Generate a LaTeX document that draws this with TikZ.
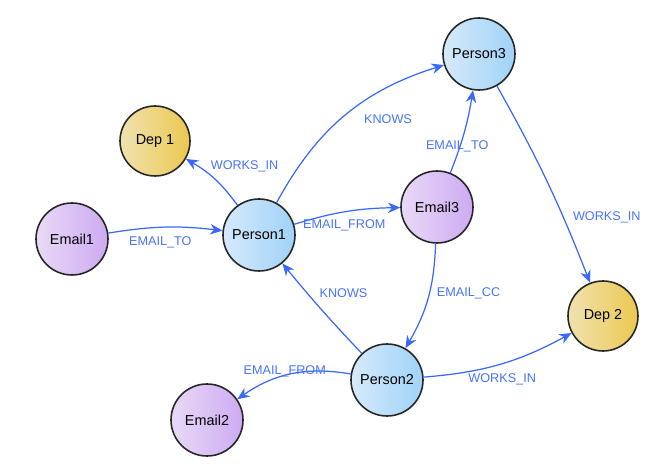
\documentclass[tikz,border=0pt]{standalone}
\usepackage{fontspec}
\setmainfont{Liberation Sans}
\usetikzlibrary{arrows.meta}
\usepackage{xcolor}
\definecolor{edgeblue}{RGB}{56,104,255}
\definecolor{labblue}{RGB}{70,115,255}
\definecolor{pplight}{RGB}{214,234,250}
\definecolor{ppdark}{RGB}{160,210,248}
\definecolor{eelight}{RGB}{232,218,246}
\definecolor{eedark}{RGB}{206,170,243}
\definecolor{ddlight}{RGB}{240,226,176}
\definecolor{dddark}{RGB}{236,200,80}
\tikzset{
    PP/.style ={circle,minimum size=72\unitpx, draw=black!85, line width=0.9pt, left color=pplight, right color=ppdark, font=\fontsize{8.2}{9}\selectfont},
    EE/.style ={circle,minimum size=72\unitpx, draw=black!85, line width=0.9pt, left color=eelight, right color=eedark, font=\fontsize{8.2}{9}\selectfont},
    DD/.style ={circle,minimum size=70\unitpx, draw=black!85, line width=0.9pt, left color=ddlight, right color=dddark, font=\fontsize{8.2}{9}\selectfont},
    RL/.style ={draw=edgeblue, line width=0.7pt, -{Stealth[length=7pt,width=6pt]}},
    LB/.style ={text=labblue, font=\fontsize{7.2}{8}\selectfont, inner sep=1pt}
}
\newlength{\unitpx}
\setlength{\unitpx}{0.02cm}

\begin{document}
\begin{tikzpicture}[x=0.02cm,y=-0.02cm]
        \useasboundingbox (0,0) rectangle (667,469);
        \node[DD] (dep1) at (155,141) {Dep 1};
        \node[EE] (email1) at (72,239) {Email1};
        \node[PP] (person1) at (259,235) {Person1};
        \node[PP] (person3) at (479,54) {Person3};
        \node[EE] (email3) at (437,207) {Email3};
        \node[DD] (dep2) at (603,316) {Dep 2};
        \node[PP] (person2) at (387,380) {Person2};
        \node[EE] (email2) at (207,420) {Email2};
        \draw[RL] (person1) to[bend right=12] node[LB,pos=0.45,anchor=south west,xshift=-4.8pt,yshift=4pt] {WORKS\_IN} (dep1);
        \draw[RL] (email1) to[bend left=8] node[LB,below=2pt,xshift=-2.8pt,yshift=-2.3pt] {EMAIL\_TO} (person1);
        \draw[RL] (person1) to[bend left=22] node[LB,pos=0.6,below right=1pt,xshift=-1pt,yshift=-4.5pt] {KNOWS} (person3);
        \draw[RL] (person1) to[bend left=8] node[LB,pos=0.45,below=3pt,xshift=1.5pt] {EMAIL\_FROM} (email3);
        \draw[RL] (email3) to[bend right=6] node[LB,pos=0.45,xshift=-3.4pt,yshift=-5.7pt] {EMAIL\_TO} (person3);
        \draw[RL] (person3) to[bend left=4] node[LB,pos=0.6,right=5pt,xshift=3.4pt,yshift=-9.6pt] {WORKS\_IN} (dep2);
        \draw[RL] (email3) to[bend left=14] node[LB,pos=0.45,right=4pt,xshift=-1pt] {EMAIL\_CC} (person2);
        \draw[RL] (person2) to[bend left=2] node[LB,pos=0.5,right=4pt,xshift=-6.2pt,yshift=9pt] {KNOWS} (person1);
        \draw[RL] (person2) to[bend right=22] node[LB,pos=0.45,above=3pt,xshift=-6.8pt,yshift=-6.8pt] {EMAIL\_FROM} (email2);
        \draw[RL] (person2) to[bend right=12] node[LB,pos=0.45,below=3pt,xshift=5pt] {WORKS\_IN} (dep2);
    \end{tikzpicture}
\end{document}
